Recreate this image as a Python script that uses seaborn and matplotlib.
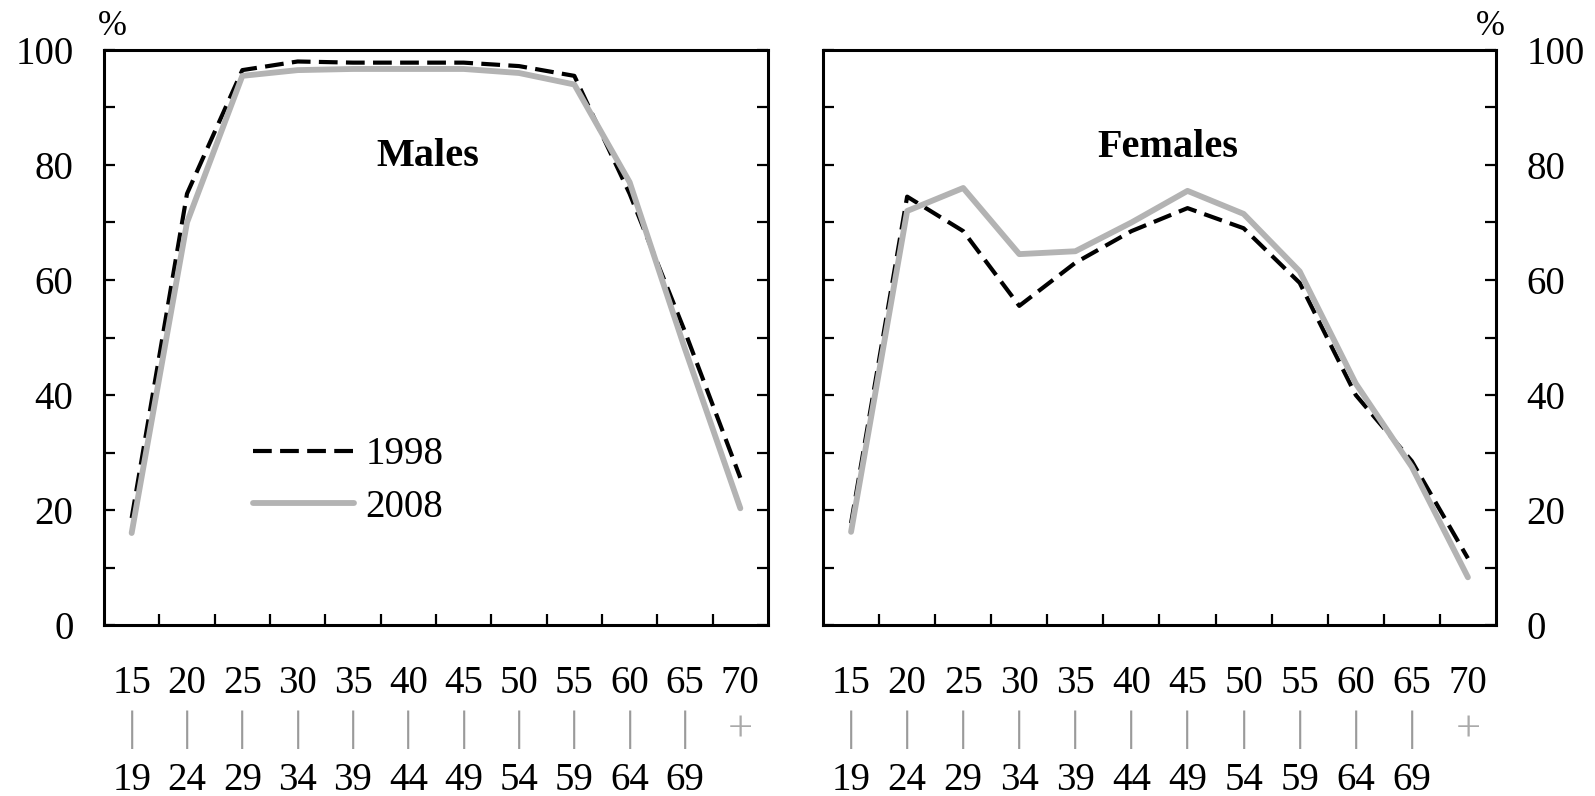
import numpy as np
import pandas as pd
import matplotlib.pyplot as plt
import matplotlib.transforms as mtransforms
import seaborn as sns

sns.set_style("ticks")
plt.rcParams['font.family'] = ['Liberation Serif', 'DejaVu Serif']
plt.rcParams.update({'text.color': 'black', 'xtick.color': 'black',
                     'ytick.color': 'black', 'axes.edgecolor': 'black',
                     'axes.labelcolor': 'black'})

# ===============================
# Data
# ===============================
age_start = ['15', '20', '25', '30', '35', '40', '45', '50', '55', '60', '65', '70']
age_mid = ['|'] * 11 + ['+']
age_end = ['19', '24', '29', '34', '39', '44', '49', '54', '59', '64', '69', '']

males_1998 = [18.6, 75, 96.5, 98, 97.8, 97.8, 97.8, 97.2, 95.5, 75, 51, 25.6]
males_2008 = [16, 70, 95.5, 96.5, 96.7, 96.7, 96.7, 96, 94, 77, 48, 20.3]
females_1998 = [17.7, 74.5, 68.5, 55.5, 63, 68.5, 72.5, 69, 59.5, 40, 28.5, 11.6]
females_2008 = [16.2, 72, 76, 64.5, 65, 70, 75.5, 71.5, 61.5, 42, 27.5, 8.3]

years = ['1998', '2008']

pos = np.arange(len(age_start))

# ===============================
# Figure
# ===============================
fig = plt.figure(figsize=(15.95, 7.96), dpi=100)
ax1 = fig.add_axes([0.0652, 0.2148, 0.4163, 0.7224])
ax2 = fig.add_axes([0.5160, 0.2148, 0.4219, 0.7224])

FS = 28


def draw_panel(ax, v98, v08, title, tx, ty, side):
    df = pd.DataFrame({'pos': np.concatenate([pos, pos]),
                       'value': v98 + v08,
                       'year': [years[0]] * len(pos) + [years[1]] * len(pos)})
    sns.lineplot(data=df[df['year'] == '1998'], x='pos', y='value', ax=ax,
                 color='black', linewidth=3, label='1998')
    ax.lines[-1].set_dashes([4.5, 2])
    sns.lineplot(data=df[df['year'] == '2008'], x='pos', y='value', ax=ax,
                 color='#b3b3b3', linewidth=4.2, label='2008')

    ax.set_xlim(-0.5, 11.5)
    ax.set_ylim(0, 100)
    ax.set_xlabel('')
    ax.set_ylabel('')

    ax.set_yticks([0, 20, 40, 60, 80, 100])
    ax.set_yticks([10, 30, 50, 70, 90], minor=True)
    ax.set_xticks(pos[:-1] + 0.5)
    ax.set_xticklabels([])
    ax.tick_params(axis='x', which='both', direction='in', length=8, width=1.6,
                   top=False, bottom=True)
    ax.tick_params(axis='y', which='both', direction='in', length=8, width=1.6,
                   left=True, right=True,
                   labelleft=(side == 'left'), labelright=(side == 'right'),
                   labelsize=FS, pad=22)
    for s in ax.spines.values():
        s.set_linewidth(2.2)
        s.set_color('black')

    ax.text(tx, ty, title, fontsize=29, fontweight='bold', ha='center', va='center')

    # three-row age group labels under the axis
    trans = mtransforms.blended_transform_factory(ax.transData, ax.transAxes)
    for i in range(len(pos)):
        ax.text(pos[i], -0.101, age_start[i], transform=trans, fontsize=FS,
                ha='center', va='center')
        if i < 11:
            ax.text(pos[i], -0.183, age_mid[i], transform=trans, fontsize=30,
                    ha='center', va='center', color='#9a9a9a')
        else:
            ax.text(pos[i], -0.183, age_mid[i], transform=trans, fontsize=32,
                    ha='center', va='center', color='#aaaaaa')
        ax.text(pos[i], -0.270, age_end[i], transform=trans, fontsize=FS,
                ha='center', va='center')


draw_panel(ax1, males_1998, males_2008, 'Males', 5.35, 81.5, 'left')
draw_panel(ax2, females_1998, females_2008, 'Females', 5.65, 83, 'right')

ax1.legend(loc='center left', bbox_to_anchor=(0.224, 0.25), frameon=False,
           fontsize=FS, handlelength=2.6, handletextpad=0.3, labelspacing=0.4,
           borderpad=0, borderaxespad=0)
ax2.get_legend().remove()

ax1.text(0.012, 1.04, '%', transform=ax1.transAxes, fontsize=25,
         ha='center', va='center')
ax2.text(0.991, 1.04, '%', transform=ax2.transAxes, fontsize=25,
         ha='center', va='center')

plt.savefig('out.png', dpi=100)
